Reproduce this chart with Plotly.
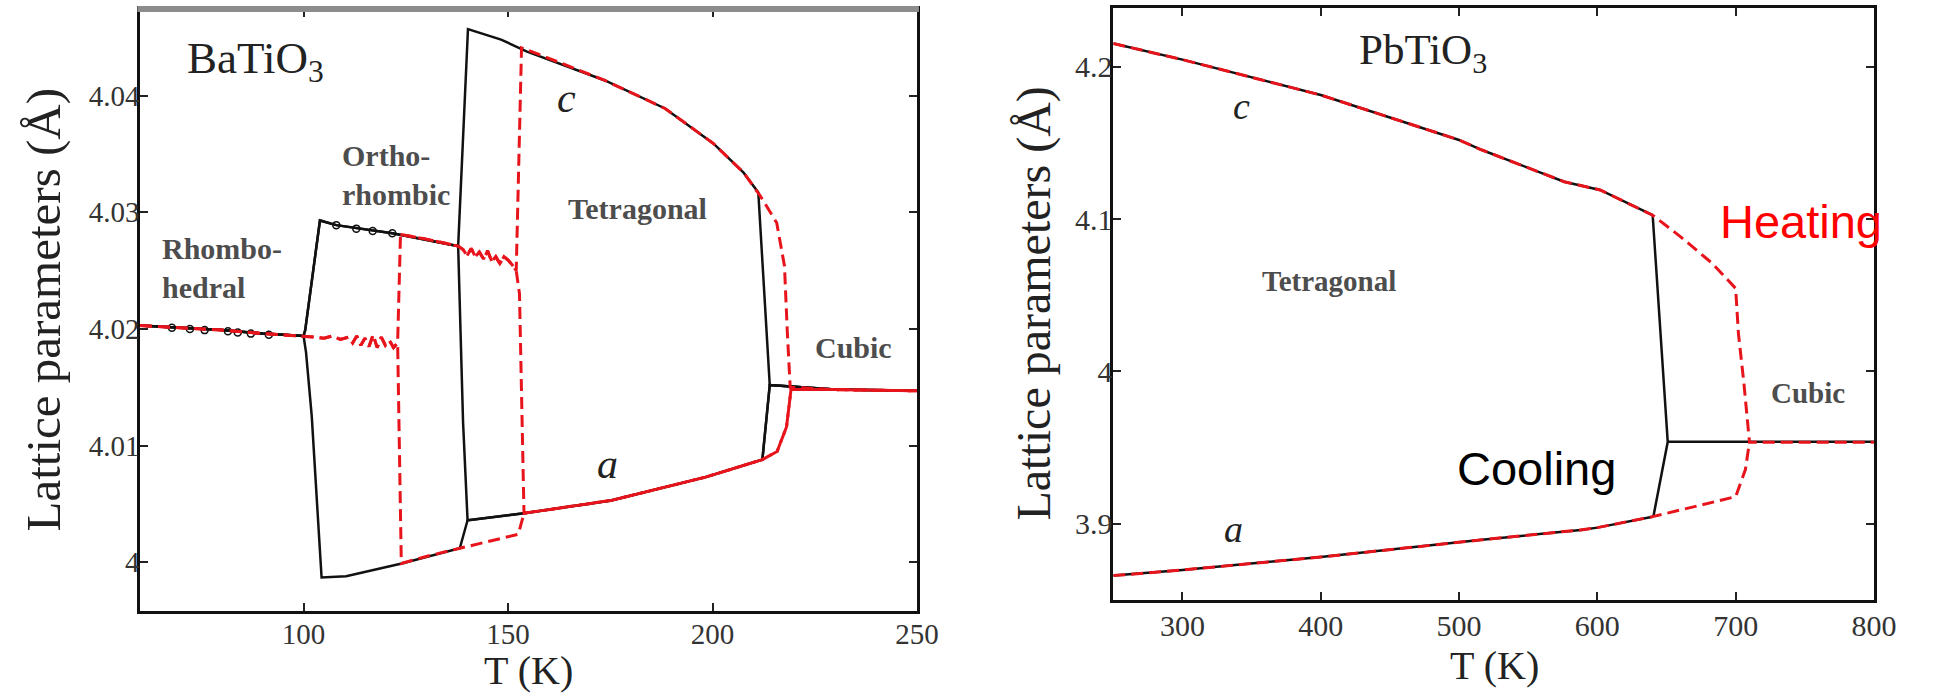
import plotly.graph_objects as go

# ---------------- BaTiO3 (left panel) ----------------
# Cooling (black solid): three pseudo-cubic lattice parameters
bt_cool_p1_T = [250, 230, 214, 212.2, 198.3, 175.2, 153.9, 140.1, 138.2, 124, 110.4, 104.4,
                103.3, 102, 100.6, 100, 90, 80, 70, 60]
bt_cool_p1_v = [4.0147, 4.0148, 4.0152, 4.0088, 4.0073, 4.0053, 4.0042, 4.0036, 4.0012, 3.9999,
                3.9988, 3.9987, 4.0050, 4.0125, 4.0180, 4.0194, 4.0196, 4.0199, 4.0201, 4.0203]
bt_cool_p2_T = [250, 230, 214, 212.2, 198.3, 175.2, 153.9, 140.1, 139.0, 138.2, 137.8, 121.7,
                108, 104, 101.6, 100.4, 100, 90, 80, 70, 60]
bt_cool_p2_v = [4.0147, 4.0148, 4.0152, 4.0088, 4.0073, 4.0053, 4.0042, 4.0036, 4.0120, 4.0220,
                4.0271, 4.0282, 4.0289, 4.0293, 4.0233, 4.0199, 4.0194, 4.0196, 4.0199, 4.0201, 4.0203]
bt_cool_p3_T = [250, 230, 214, 211.2, 207.6, 200.2, 188.4, 173.7, 154.5, 148.3, 140.2, 137.8,
                121.7, 108, 104, 101.6, 100.4, 100, 90, 80, 70, 60]
bt_cool_p3_v = [4.0147, 4.0148, 4.0152, 4.0317, 4.0334, 4.0359, 4.0389, 4.0413, 4.0438, 4.0448,
                4.0457, 4.0271, 4.0282, 4.0289, 4.0293, 4.0233, 4.0199, 4.0194, 4.0196, 4.0199,
                4.0201, 4.0203]
bt_mark_T = [67.8, 72.2, 75.8, 81.5, 83.9, 87.1, 91.5, 108, 112.9, 116.9, 121.7]
bt_mark_v = [4.0201, 4.0200, 4.0199, 4.0198, 4.0197, 4.0196, 4.0195, 4.0289, 4.0286, 4.0284, 4.0282]

# Heating (red dashed)
bt_heat_rh_T = [60, 70, 80, 90, 100, 103, 105, 107, 109, 111, 112, 113, 114, 115, 116, 117,
                118, 119, 120, 121, 122, 123]
bt_heat_rh_v = [4.0203, 4.0201, 4.0199, 4.0196, 4.0194, 4.0193, 4.0192, 4.0194, 4.0191, 4.0193,
                4.0188, 4.0194, 4.0186, 4.0192, 4.0185, 4.0195, 4.0184, 4.0193, 4.0186, 4.0190,
                4.0184, 4.0188]
bt_heat_p1_T = [123.9, 130, 138.2, 145, 152.5, 153.9, 160, 175.2, 198.3, 212.2, 215.8, 218.1,
                219.2, 230, 250]
bt_heat_p1_v = [3.9999, 4.0005, 4.0012, 4.0018, 4.0024, 4.0042, 4.0045, 4.0053, 4.0073, 4.0088,
                4.0095, 4.0116, 4.0148, 4.0148, 4.0147]
bt_heat_or_T = [123.7, 130, 137.8, 139, 140, 141, 142, 143, 144, 145, 146, 147, 148, 149, 150,
                151, 152]
bt_heat_or_v = [4.0281, 4.0277, 4.0271, 4.0268, 4.0263, 4.0269, 4.0262, 4.0266, 4.0260, 4.0267,
                4.0258, 4.0262, 4.0256, 4.0262, 4.0259, 4.0255, 4.0250]
bt_heat_p2_T = [152.8, 153.9, 160, 175.2, 198.3, 212.2, 215.8, 218.1, 219.2, 230, 250]
bt_heat_p2_v = [4.0230, 4.0042, 4.0045, 4.0053, 4.0073, 4.0088, 4.0095, 4.0116, 4.0148, 4.0148, 4.0147]
bt_heat_p3_T = [153.3, 160, 173.7, 188.4, 200.2, 207.6, 211.7, 215.7, 217.6, 218.3, 219.0, 230, 250]
bt_heat_p3_v = [4.0441, 4.0432, 4.0413, 4.0389, 4.0359, 4.0334, 4.0314, 4.0291, 4.0254, 4.0197,
                4.0150, 4.0148, 4.0147]

# ---------------- PbTiO3 (right panel) ----------------
pt_c_T = [250, 300, 400, 500, 516.6, 576, 602, 640]
pt_c_v = [4.2152, 4.2046, 4.1814, 4.1519, 4.1453, 4.1245, 4.1191, 4.1025]
pt_a_T = [250, 300, 400, 500, 516.6, 588, 600, 640]
pt_a_v = [3.8660, 3.8697, 3.8782, 3.8880, 3.8895, 3.8960, 3.8975, 3.9047]
pt_cool_tr_T = [640, 650.9, 640.5]
pt_cool_tr_v = [4.1025, 3.9538, 3.9047]
pt_cub_cool_T = [650.9, 800]
pt_cub_cool_v = [3.9538, 3.9538]
pt_heat_c_T = [640, 660, 683, 700, 702, 706, 709, 710, 800]
pt_heat_c_v = [4.1025, 4.0885, 4.0710, 4.0545, 4.0250, 3.9920, 3.9600, 3.9536, 3.9536]
pt_heat_a_T = [640, 700, 707, 710]
pt_heat_a_v = [3.9047, 3.9178, 3.9354, 3.9536]

# Tick labels
bt_xticks = [100, 150, 200, 250]
bt_yticks = [4.0, 4.01, 4.02, 4.03, 4.04]
bt_yticktext = ["4", "4.01", "4.02", "4.03", "4.04"]
pt_xticks = [300, 400, 500, 600, 700, 800]
pt_yticks = [3.9, 4.0, 4.1, 4.2]
pt_yticktext = ["3.9", "4", "4.1", "4.2"]

BLACK = "#111111"
RED = "#e8141c"
SERIF = "Liberation Serif, Times New Roman, serif"
SANS = "Liberation Sans, Arial, sans-serif"

fig = go.Figure()


def black(x, y, xa="x", ya="y"):
    fig.add_trace(go.Scatter(x=x, y=y, mode="lines", xaxis=xa, yaxis=ya,
                             line=dict(color=BLACK, width=2.5), showlegend=False, hoverinfo="skip"))


def red(x, y, xa="x", ya="y"):
    fig.add_trace(go.Scatter(x=x, y=y, mode="lines", xaxis=xa, yaxis=ya,
                             line=dict(color=RED, width=3, dash="12px,6px"), showlegend=False,
                             hoverinfo="skip"))


# left panel
black(bt_cool_p1_T, bt_cool_p1_v)
black(bt_cool_p2_T, bt_cool_p2_v)
black(bt_cool_p3_T, bt_cool_p3_v)
fig.add_trace(go.Scatter(x=bt_mark_T, y=bt_mark_v, mode="markers", xaxis="x", yaxis="y",
                         marker=dict(symbol="circle-open", size=7, color=BLACK, line=dict(width=1.5)),
                         showlegend=False, hoverinfo="skip"))
red(bt_heat_rh_T + [123.9] + bt_heat_p1_T[1:], bt_heat_rh_v + [3.9999] + bt_heat_p1_v[1:])
red(bt_heat_rh_T + bt_heat_or_T + bt_heat_p2_T, bt_heat_rh_v + bt_heat_or_v + bt_heat_p2_v)
red(bt_heat_or_T + bt_heat_p3_T, bt_heat_or_v + bt_heat_p3_v)

# right panel
black(pt_c_T, pt_c_v, "x2", "y2")
black(pt_a_T, pt_a_v, "x2", "y2")
black(pt_cool_tr_T, pt_cool_tr_v, "x2", "y2")
black(pt_cub_cool_T, pt_cub_cool_v, "x2", "y2")
red(pt_c_T[:-1] + pt_heat_c_T, pt_c_v[:-1] + pt_heat_c_v, "x2", "y2")
red(pt_a_T[:-1] + pt_heat_a_T, pt_a_v[:-1] + pt_heat_a_v, "x2", "y2")

W, H = 1934, 693
axis_common = dict(showline=True, linecolor="#111", linewidth=2.5, mirror="ticks",
                   ticks="inside", ticklen=8, tickwidth=2, tickcolor="#222",
                   showgrid=False, zeroline=False, fixedrange=True)

fig.update_layout(
    width=W, height=H, margin=dict(l=0, r=0, t=0, b=0),
    paper_bgcolor="white", plot_bgcolor="white",
    xaxis=dict(domain=[141.7 / W, 928 / W], range=[60, 250], anchor="y",
               tickvals=bt_xticks, ticktext=[str(v) for v in bt_xticks], ticklabelstandoff=-4,
               tickfont=dict(family=SERIF, size=29, color="#333"), **axis_common),
    yaxis=dict(domain=[1 - 610.7 / H, 1 - 9.3 / H], range=[3.99585, 4.0474], anchor="x",
               tickvals=bt_yticks, ticktext=bt_yticktext, ticklabelstandoff=-8,
               tickfont=dict(family=SERIF, size=29, color="#333"), **axis_common),
    xaxis2=dict(domain=[1126.7 / W, 1896.5 / W], range=[250, 800], anchor="y2",
                tickvals=pt_xticks, ticktext=[str(v) for v in pt_xticks], ticklabelstandoff=-3,
                tickfont=dict(family=SERIF, size=30, color="#333"), **axis_common),
    yaxis2=dict(domain=[1 - 600 / H, 1 - 8.3 / H], range=[3.850, 4.2383], anchor="x2",
                tickvals=pt_yticks, ticktext=pt_yticktext, ticklabelstandoff=-8,
                tickfont=dict(family=SERIF, size=30, color="#333"), **axis_common),
)

# gray thick top border on the left panel
fig.add_shape(type="line", xref="paper", yref="paper", x0=139 / W, x1=930 / W,
              y0=1 - 9 / H, y1=1 - 9 / H, line=dict(color="#8c8c8c", width=6))

ann = []
# axis titles
ann.append(dict(text="Lattice parameters (Å)", xref="paper", yref="paper", x=44 / W, y=1 - 310 / H,
                textangle=-90, font=dict(family=SERIF, size=49, color="#222")))
ann.append(dict(text="Lattice parameters (Å)", xref="paper", yref="paper", x=1046 / W, y=1 - 304 / H,
                textangle=-90, font=dict(family=SERIF, size=48, color="#222")))
ann.append(dict(text="T (K)", xref="paper", yref="paper", x=535 / W, y=1 - 670 / H,
                font=dict(family=SERIF, size=40, color="#222")))
ann.append(dict(text="T (K)", xref="paper", yref="paper", x=1512 / W, y=1 - 665 / H,
                font=dict(family=SERIF, size=40, color="#222")))

# left panel labels
ann.append(dict(text="BaTiO<sub>3</sub>", xref="x", yref="y", x=71.1, y=4.0430, xanchor="left",
                font=dict(family=SERIF, size=45, color="#222")))
lab = dict(family=SERIF, size=30, color="#4d4d4d")
ann.append(dict(text="<b>Ortho-</b><br><b>rhombic</b>", xref="x", yref="y", x=108.8, y=4.0332,
                xanchor="left", align="left", font=lab))
ann.append(dict(text="<b>Rhombo-</b><br><b>hedral</b>", xref="x", yref="y", x=65.0, y=4.0252,
                xanchor="left", align="left", font=lab))
ann.append(dict(text="<b>Tetragonal</b>", xref="x", yref="y", x=181.6, y=4.0303, font=lab))
ann.append(dict(text="<b>Cubic</b>", xref="x", yref="y", x=234.6, y=4.0184, font=lab))
ann.append(dict(text="<i>c</i>", xref="x", yref="y", x=164.3, y=4.0398,
                font=dict(family=SERIF, size=42, color="#222")))
ann.append(dict(text="<i>a</i>", xref="x", yref="y", x=174.2, y=4.0084,
                font=dict(family=SERIF, size=42, color="#222")))

# right panel labels
ann.append(dict(text="PbTiO<sub>3</sub>", xref="x2", yref="y2", x=426, y=4.209, xanchor="left",
                font=dict(family=SERIF, size=43, color="#222")))
ann.append(dict(text="<b>Tetragonal</b>", xref="x2", yref="y2", x=406, y=4.0594,
                font=dict(family=SERIF, size=29, color="#4d4d4d")))
ann.append(dict(text="<b>Cubic</b>", xref="x2", yref="y2", x=752, y=3.9859,
                font=dict(family=SERIF, size=29, color="#4d4d4d")))
ann.append(dict(text="<i>c</i>", xref="x2", yref="y2", x=343, y=4.1745,
                font=dict(family=SERIF, size=38, color="#222")))
ann.append(dict(text="<i>a</i>", xref="x2", yref="y2", x=336.7, y=3.8965,
                font=dict(family=SERIF, size=38, color="#222")))
ann.append(dict(text="Heating", xref="x2", yref="y2", x=747.4, y=4.0981,
                font=dict(family=SANS, size=47, color="#ff0000")))
ann.append(dict(text="Cooling", xref="x2", yref="y2", x=556, y=3.936,
                font=dict(family=SANS, size=47, color="#000000")))

for a in ann:
    a.setdefault("showarrow", False)
    a.setdefault("xanchor", "center")
    a.setdefault("yanchor", "middle")
fig.update_layout(annotations=ann)

fig.write_html("out.html")
